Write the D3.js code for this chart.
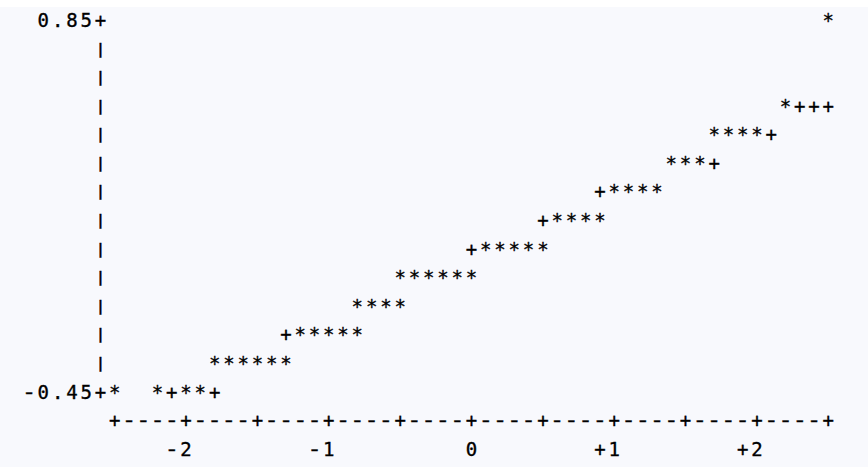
<!DOCTYPE html>
<html>
<head>
<meta charset="utf-8">
<script src="https://cdn.jsdelivr.net/npm/d3@7"></script>
<style>
  html, body { margin: 0; padding: 0; background: #ffffff; }
  text { font-family: "DejaVu Sans Mono", "Liberation Mono", monospace; font-size: 19px; fill: #000; stroke: #000; stroke-width: 0.35px; }
</style>
</head>
<body>
<div id="chart"></div>
<script>
// Normal probability plot (line printer style)
// data points, "*": normal quantile and value
const starQuantiles = [
    -2.5, -2.2, -2.0, -1.9,
    -1.8, -1.7, -1.6, -1.5, -1.4, -1.3,
    -1.2, -1.1, -1.0, -0.9, -0.8,
    -0.8, -0.7, -0.6, -0.5,
    -0.5, -0.4, -0.3, -0.2, -0.1, 0.0,
    0.1, 0.2, 0.3, 0.4, 0.5,
    0.6, 0.7, 0.8, 0.9,
    1.0, 1.1, 1.2, 1.3,
    1.4, 1.5, 1.6,
    1.7, 1.8, 1.9, 2.0,
    2.2,
    2.5
];
const starValues = [
    -0.45, -0.45, -0.45, -0.45,
    -0.35, -0.35, -0.35, -0.35, -0.35, -0.35,
    -0.25, -0.25, -0.25, -0.25, -0.25,
    -0.15, -0.15, -0.15, -0.15,
    -0.05, -0.05, -0.05, -0.05, -0.05, -0.05,
    0.05, 0.05, 0.05, 0.05, 0.05,
    0.15, 0.15, 0.15, 0.15,
    0.25, 0.25, 0.25, 0.25,
    0.35, 0.35, 0.35,
    0.45, 0.45, 0.45, 0.45,
    0.55,
    0.85
];

// reference normal line, "+"
const refQuantiles = [-2.1, -1.8, -1.3, 0.0, 0.5, 0.9, 1.7, 2.1, 2.3, 2.4, 2.5];
const refValues = [-0.45, -0.45, -0.25, 0.05, 0.15, 0.25, 0.35, 0.45, 0.55, 0.55, 0.55];

// axes
const xTickValues = [-2.5, -2, -1.5, -1, -0.5, 0, 0.5, 1, 1.5, 2, 2.5];
const xLabelValues = [-2, -1, 0, 1, 2];
const xTickLabels = ["-2", "-1", "0", "+1", "+2"];
const yTickValues = [0.85, -0.45];
const yTickLabels = ["0.85", "-0.45"];

const width = 868, height = 467;

const svg = d3.select("#chart")
    .append("svg")
    .attr("width", width)
    .attr("height", height);

// light page background under a thin white strip
svg.append("rect")
    .attr("x", 0).attr("y", 7)
    .attr("width", width).attr("height", height - 7)
    .attr("fill", "#f8f9fd");

const x = d3.scaleLinear().domain([-2.5, 2.5]).range([114.7, 828.3]);
const y = d3.scaleLinear().domain([-0.45, 0.85]).range([391.7, 20]);

const colW = x(0.1) - x(0);
const rowH = y(0.75) - y(0.85);   // positive, pixels per 0.1
const axisX = x(-2.5) - colW;
const axisRowY = y(-0.45) + rowH;
const labelRowY = axisRowY + rowH;

// the old printer font had longer dashes and short bars
const glyphScale = { "-": [1.24, 1], "|": [1, 0.72] };

// draw one character per cell, centred on (cx, cy)
function glyph(ch, cx, cy) {
    const s = glyphScale[ch] || [1, 1];
    svg.append("text")
        .attr("transform", `translate(${cx},${cy}) scale(${s[0]},${s[1]})`)
        .attr("dy", "0.36em")
        .attr("text-anchor", "middle")
        .text(ch);
}

// draw a string right-aligned so its last char sits at column cx
function rightText(str, cx, cy) {
    const chars = str.split("");
    chars.forEach((ch, i) => {
        glyph(ch, cx - (chars.length - 1 - i) * colW, cy);
    });
}

// Y axis: "+" at the ticks, "|" between them
const nRows = Math.round((y.domain()[1] - y.domain()[0]) / 0.1);
for (let r = 0; r <= nRows; r++) {
    const v = y.domain()[1] - r * 0.1;
    const isTick = yTickValues.some(t => Math.abs(t - v) < 1e-6);
    glyph(isTick ? "+" : "|", axisX, y(v));
}
yTickValues.forEach((t, i) => rightText(yTickLabels[i], axisX - colW, y(t)));

// X axis: "+" at the ticks, "-" between them
const nCols = Math.round((x.domain()[1] - x.domain()[0]) / 0.1);
for (let c = 0; c <= nCols; c++) {
    const v = x.domain()[0] + c * 0.1;
    const isTick = xTickValues.some(t => Math.abs(t - v) < 1e-6);
    glyph(isTick ? "+" : "-", x(v), axisRowY);
}
xLabelValues.forEach((t, i) => rightText(xTickLabels[i], x(t), labelRowY));

// reference line first, data stars on top
refQuantiles.forEach((q, i) => glyph("+", x(q), y(refValues[i])));
starQuantiles.forEach((q, i) => glyph("*", x(q), y(starValues[i])));
</script>
</body>
</html>
